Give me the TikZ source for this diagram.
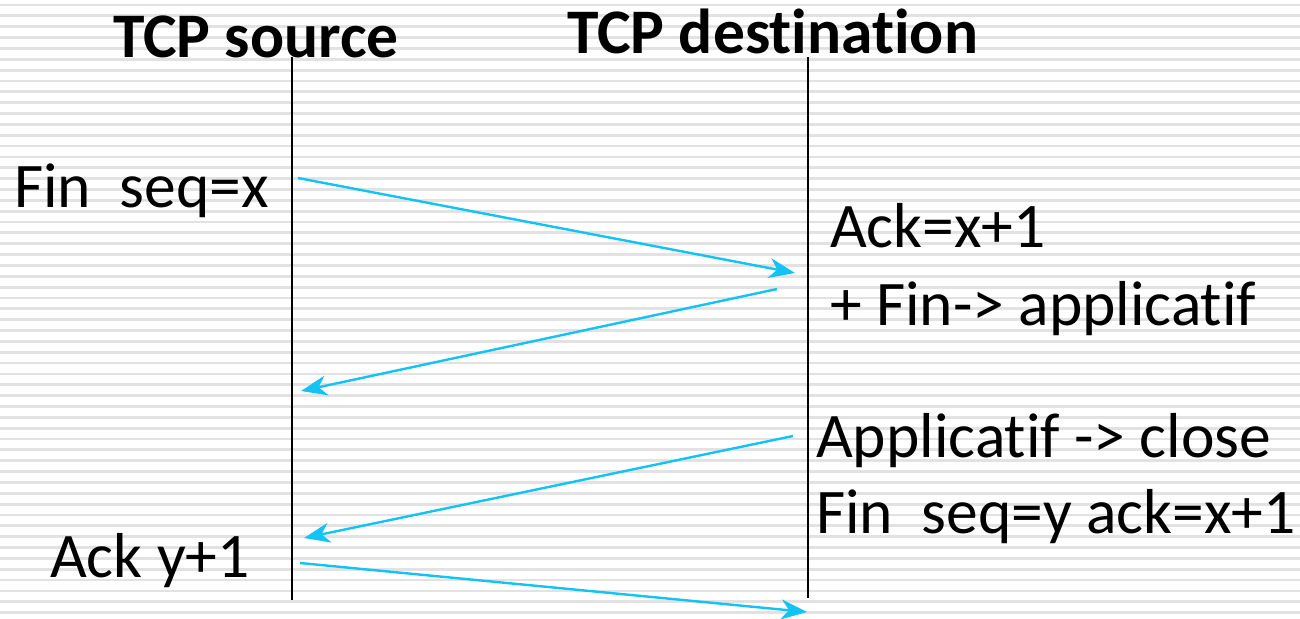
\documentclass[tikz,border=0pt]{standalone}
\usepackage{fontspec}
\setmainfont[Ligatures=NoCommon]{Carlito}
\usetikzlibrary{arrows.meta}
\definecolor{msgblue}{HTML}{12C3F4}
\definecolor{stripe}{HTML}{E2E2E2}
\tikzset{
  lifeline/.style={draw=black, line width=1.6pt},
  msg/.style={draw=msgblue, line width=2.4pt,
    -{Stealth[length=26pt, width=20pt, inset=8pt]}},
  label/.style={anchor=base west, inner sep=0pt, font=\fontsize{63.5}{70}\selectfont},
  title/.style={anchor=base west, inner sep=0pt, font=\fontsize{63.5}{70}\selectfont\bfseries},
}
\begin{document}
\begin{tikzpicture}[x=1pt, y=-1pt]
  % page and striped background
  \useasboundingbox (0,0) rectangle (1300,618);
  \fill[white] (0,0) rectangle (1300,618);
  \foreach \k in {0,...,56} {
    \fill[stripe] (0,{5+10.85*\k-1.4}) rectangle (1300,{5+10.85*\k+1.4});
  }

  % column titles
  \node[title] (src) at (113,57) {TCP source};
  \node[title] (dst) at (567,53) {TCP destination};

  % lifelines
  \coordinate (srcTop) at (292,57);
  \coordinate (srcBot) at (292,600);
  \coordinate (dstTop) at (808,57);
  \coordinate (dstBot) at (808,598);
  \draw[lifeline] (srcTop) -- (srcBot);
  \draw[lifeline] (dstTop) -- (dstBot);

  % message end points
  \coordinate (m1s) at (298,178);
  \coordinate (m1e) at (795,273);
  \coordinate (m2s) at (777,289);
  \coordinate (m2e) at (301,391);
  \coordinate (m3s) at (793,436);
  \coordinate (m3e) at (304,538);
  \coordinate (m4s) at (300,563);
  \coordinate (m4e) at (807,612);

  % messages
  \draw[msg] (m1s) -- (m1e);
  \draw[msg] (m2s) -- (m2e);
  \draw[msg] (m3s) -- (m3e);
  \draw[msg] (m4s) -- (m4e);

  % annotations
  \node[label] (finx) at (14,207) {Fin\ \ seq=x};
  \node[label] (ackx) at (830,247) {Ack=x+1};
  \node[label] (fina) at (830,325) {+ Fin-> applicatif};
  \node[label] (appc) at (816,457) {Applicatif -> close};
  \node[label] (finy) at (816,533) {Fin\ \ seq=y ack=x+1};
  \node[label] (acky) at (50,577) {Ack y+1};
\end{tikzpicture}
\end{document}
